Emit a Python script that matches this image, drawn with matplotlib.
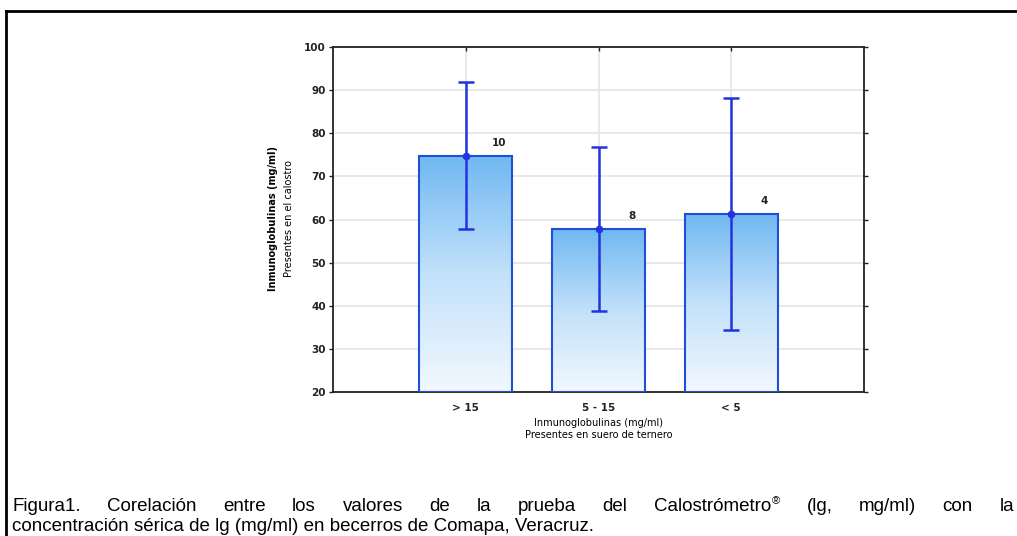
import matplotlib
matplotlib.use('Agg')
import matplotlib.pyplot as plt
import numpy as np
from matplotlib.lines import Line2D

# data
groups = ['> 15', '5 - 15', '< 5']
means = [74.8, 57.7, 61.3]
upper = [91.8, 76.8, 88.1]
lower = [57.7, 38.7, 34.3]
counts = ['10', '8', '4']

ylabel_1 = 'Inmunoglobulinas (mg/ml)'
ylabel_2 = 'Presentes en el calostro'
xlabel_1 = 'Inmunoglobulinas (mg/ml)'
xlabel_2 = 'Presentes en suero de ternero'
caption_1 = ('Figura1. Corelación entre los valores de la prueba del '
             'Calostrómetro\u00ae (lg, mg/ml) con la')
caption_2 = 'concentración sérica de lg (mg/ml) en becerros de Comapa, Veracruz.'

W, H = 1017, 536
fig = plt.figure(figsize=(W / 100, H / 100), dpi=100)
fig.patch.set_facecolor('white')

# frame around the whole figure (cut off right and bottom)
fig.add_artist(Line2D([6 / W, 1.0], [1 - 11 / H, 1 - 11 / H], color='black', lw=2))
fig.add_artist(Line2D([6 / W, 6 / W], [1 - 11 / H, 0.0], color='black', lw=2))

ax = fig.add_axes([333 / W, 1 - 392 / H, 531 / W, 345 / H])
x = np.arange(len(groups))

ax.grid(True, color='#e4e4e4', lw=1.2, zorder=0)
ax.set_axisbelow(True)

blue_edge = '#1f4ed8'
bars = ax.bar(x, [m - 20 for m in means], bottom=20, width=0.7,
              facecolor='none', edgecolor=blue_edge, lw=1.5, zorder=3)

# vertical gradient fill inside each bar
grad = np.linspace(0, 1, 256).reshape(-1, 1)
cmap = matplotlib.colors.LinearSegmentedColormap.from_list(
    'barfill', ['#f2f8fe', '#c2e1fa', '#70b8f2'])
for b in bars:
    bx, by = b.get_x(), b.get_y()
    im = ax.imshow(grad, cmap=cmap, origin='lower', aspect='auto',
                   extent=[bx, bx + b.get_width(), by, by + b.get_height()],
                   zorder=2)
    im.set_clip_path(b)
ax.set_xlim(-1, 3)
ax.set_ylim(20, 100)

err = [np.array(means) - np.array(lower), np.array(upper) - np.array(means)]
ax.errorbar(x, means, yerr=err, fmt='o', color='#2233e0', ms=4.5,
            elinewidth=1.8, capsize=5.5, capthick=1.8, zorder=4)

for xi, m, c in zip(x, means, counts):
    ax.text(xi + 0.25, m + 3, c, ha='center', va='center', fontsize=7.5,
            fontweight='bold', color='#222222', zorder=5)

ax.set_xticks(x)
ax.set_xticklabels(groups)
ax.set_yticks(np.arange(20, 101, 10))
ax.tick_params(axis='both', labelsize=7.5, length=3, width=1, colors='#222222')
ax.tick_params(axis='y', direction='out', pad=2)
ax.tick_params(axis='x', direction='in', pad=8)
for lab in ax.get_yticklabels() + ax.get_xticklabels():
    lab.set_fontweight('bold')
ax.tick_params(right=True, top=True)
for s in ax.spines.values():
    s.set_linewidth(1.3)
    s.set_color('#222222')

# axis titles, two lines each
fig.text(273 / W, 1 - 219 / H, ylabel_1, rotation=90, ha='center', va='center',
         fontsize=7, fontweight='bold')
fig.text(289 / W, 1 - 219 / H, ylabel_2, rotation=90, ha='center', va='center',
         fontsize=7)
fig.text(599 / W, 1 - 423 / H, xlabel_1, ha='center', va='center', fontsize=7)
fig.text(599 / W, 1 - 435 / H, xlabel_2, ha='center', va='center', fontsize=7)

# caption, first line justified to the right edge
cap_font = dict(family='Liberation Sans', fontsize=13.5)
sup_font = dict(family='Liberation Sans', fontsize=8)
fig.canvas.draw()
renderer = fig.canvas.get_renderer()


def text_width(s, font):
    t = fig.text(0, 0, s, **font)
    wd = t.get_window_extent(renderer).width
    t.remove()
    return wd


words = caption_1.split(' ')
widths = []
for w in words:
    if w.endswith('\u00ae'):
        widths.append(text_width(w[:-1], cap_font) + text_width('\u00ae', sup_font) + 1)
    else:
        widths.append(text_width(w, cap_font))
left_px, right_px = 12, 1014
base_y = 1 - 511 / H
gap = (right_px - left_px - sum(widths)) / (len(words) - 1)
xpos = left_px
for w, wd in zip(words, widths):
    if w.endswith('\u00ae'):
        core = w[:-1]
        fig.text(xpos / W, base_y, core, ha='left', va='baseline', **cap_font)
        cw = text_width(core, cap_font)
        fig.text((xpos + cw + 1) / W, base_y + 7 / H, '\u00ae', ha='left',
                 va='baseline', **sup_font)
    else:
        fig.text(xpos / W, base_y, w, ha='left', va='baseline', **cap_font)
    xpos += wd + gap
fig.text(left_px / W, 1 - 531 / H, caption_2, ha='left', va='baseline', **cap_font)

fig.savefig('out.png', dpi=100)
